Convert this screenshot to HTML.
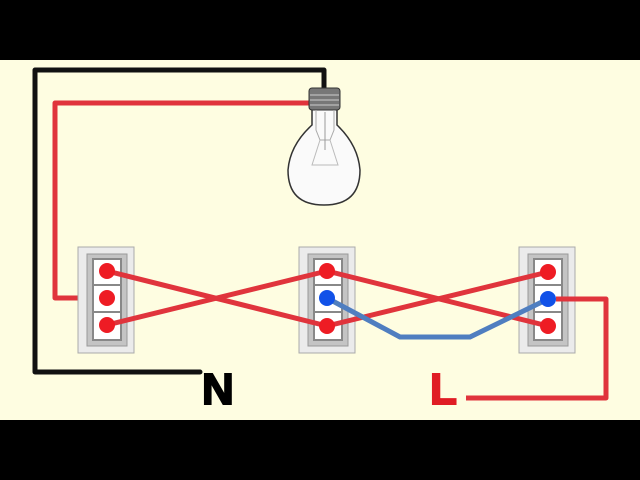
<!DOCTYPE html>
<html><head><meta charset="utf-8"><style>
html,body{margin:0;padding:0;background:#000;}
svg{display:block;}
</style></head><body>
<svg width="640" height="480" xmlns="http://www.w3.org/2000/svg">
<rect x="0" y="0" width="640" height="480" fill="#000"/>
<rect x="0" y="60" width="640" height="360" fill="#fefde1"/>
<polyline points="324,92 324,70 35,70 35,372 200,372" fill="none" stroke="#111" stroke-width="5" stroke-linejoin="round" stroke-linecap="round"/>
<polyline points="310,103 55,103 55,298 107,298" fill="none" stroke="#e0343c" stroke-width="5" stroke-linejoin="round"/>
<g>
<path d="M312,105 L312,125 Q290,145 288,170 Q288,205 324,205 Q360,205 360,170 Q358,145 337,125 L337,105 Z" fill="#fafafa" stroke="#333" stroke-width="1.5"/>
<rect x="309" y="88" width="31" height="22" rx="3" fill="#777" stroke="#333"/>
<line x1="310" y1="95" x2="339" y2="95" stroke="#ccc"/>
<line x1="310" y1="100" x2="339" y2="100" stroke="#ccc"/>
<line x1="310" y1="105" x2="339" y2="105" stroke="#ccc"/>
<path d="M316,110 L316,130 L320,140 L330,140 L334,130 L334,110" fill="none" stroke="#aaa"/>
<path d="M320,140 L312,165 L338,165 L330,140" fill="none" stroke="#bbb"/>
<line x1="325" y1="112" x2="325" y2="150" stroke="#999"/>
</g>
<g id="sw">
<rect x="78" y="247" width="56" height="106" fill="#ebebeb" stroke="#aaa"/>
<rect x="87" y="254" width="40" height="92" fill="#c4c4c4" stroke="#999"/>
<rect x="93" y="259" width="28" height="81" fill="#fff" stroke="#888" stroke-width="2"/>
<line x1="93" y1="285" x2="121" y2="285" stroke="#888" stroke-width="2"/>
<line x1="93" y1="312" x2="121" y2="312" stroke="#888" stroke-width="2"/>
</g>
<use href="#sw" x="221" y="0"/>
<use href="#sw" x="441" y="0"/>
<g stroke="#e0343c" stroke-width="5" fill="none">
<line x1="107" y1="271" x2="327" y2="326"/>
<line x1="107" y1="325" x2="327" y2="271"/>
<line x1="327" y1="271" x2="548" y2="326"/>
<line x1="327" y1="326" x2="548" y2="272"/>
<polyline points="556,299 606,299 606,398 466,398" stroke-linejoin="round"/>
</g>
<polyline points="327,298 400,337 470,337 548,299" fill="none" stroke="#4f7ec0" stroke-width="5" stroke-linejoin="round"/>
<g fill="#ee1c24">
<circle cx="107" cy="271" r="8"/><circle cx="107" cy="298" r="8"/><circle cx="107" cy="325" r="8"/>
<circle cx="327" cy="271" r="8"/><circle cx="327" cy="326" r="8"/>
<circle cx="548" cy="272" r="8"/><circle cx="548" cy="326" r="8"/>
</g>
<g fill="#1151e8">
<circle cx="327" cy="298" r="8"/><circle cx="548" cy="299" r="8"/>
</g>
<text x="202" y="404" font-family="Liberation Sans, sans-serif" font-weight="bold" font-size="44" fill="#000" stroke="#000" stroke-width="2">N</text>
<text x="430" y="404" font-family="Liberation Sans, sans-serif" font-weight="bold" font-size="44" fill="#e01c24" stroke="#e01c24" stroke-width="2">L</text>
</svg>
</body></html>
